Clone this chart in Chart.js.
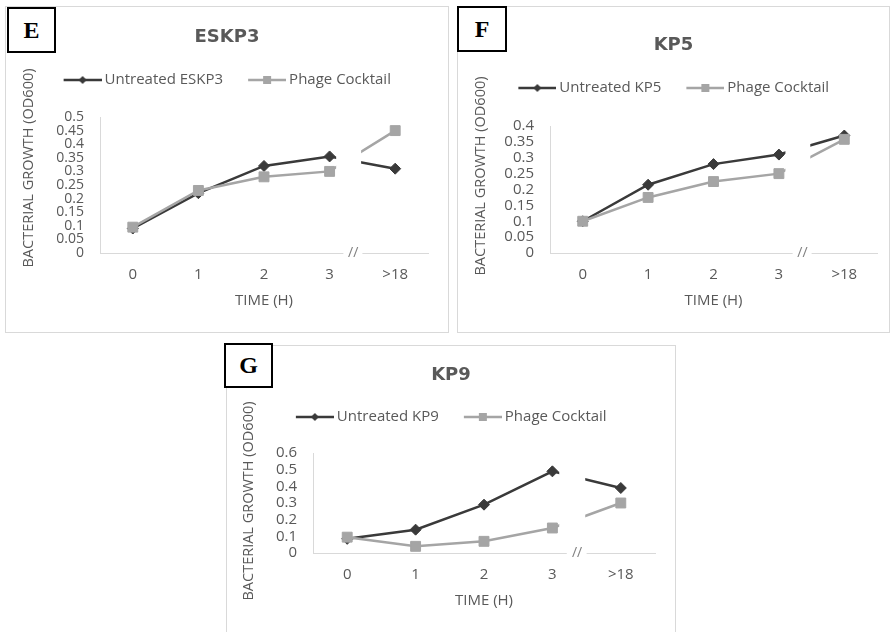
<!DOCTYPE html>
<html>
<head>
<meta charset="utf-8">
<script src="https://cdn.jsdelivr.net/npm/chart.js"></script>
<style>
  html, body { margin: 0; padding: 0; background: #fff; }
  body { width: 891px; height: 632px; position: relative; overflow: hidden; }
  .panel { position: absolute; box-sizing: border-box; border: 1px solid #d9d9d9; background: #fff; }
  .panel canvas { position: absolute; left: 0; top: 0; }
  .tag { position: absolute; box-sizing: border-box; border: 2px solid #000; background: #fff;
         font: bold 24px "Liberation Serif", serif; color: #000;
         display: flex; align-items: center; justify-content: center; }
</style>
</head>
<body>
<div class="panel" style="left:5px;top:6px;width:444px;height:327px"><canvas id="chartE" width="442" height="325"></canvas></div>
<div class="panel" style="left:457px;top:6px;width:433px;height:327px"><canvas id="chartF" width="431" height="325"></canvas></div>
<div class="panel" style="left:226px;top:345px;width:450px;height:300px"><canvas id="chartG" width="448" height="298"></canvas></div>
<div class="tag" style="left:7px;top:7px;width:49px;height:46px">E</div>
<div class="tag" style="left:457px;top:6px;width:50px;height:46px">F</div>
<div class="tag" style="left:224px;top:343px;width:49px;height:45px">G</div>

<script>
// valeurs (DO600)
const timeLabels = ['0', '1', '2', '3', '>18'];

const untreatedESKP3 = [0.09, 0.22, 0.32, 0.355, 0.31];
const phageESKP3 = [0.095, 0.23, 0.28, 0.30, 0.45];

const untreatedKP5 = [0.1, 0.215, 0.28, 0.31, 0.37];
const phageKP5 = [0.1, 0.175, 0.225, 0.25, 0.358];

const untreatedKP9 = [0.085, 0.14, 0.29, 0.49, 0.39];
const phageKP9 = [0.095, 0.04, 0.07, 0.15, 0.3];

const yTicksE = ['0', '0.05', '0.1', '0.15', '0.2', '0.25', '0.3', '0.35', '0.4', '0.45', '0.5'];
const yTicksF = ['0', '0.05', '0.1', '0.15', '0.2', '0.25', '0.3', '0.35', '0.4'];
const yTicksG = ['0', '0.1', '0.2', '0.3', '0.4', '0.5', '0.6'];

const DARK = '#3a3a3a';
const LIGHT = '#a5a5a5';
const TEXT = '#595959';
const AXIS = '#d9d9d9';

// petite icône de légende façon Excel : trait + marqueur
function legendIcon(color, shape) {
    const c = document.createElement('canvas');
    c.width = 43;
    c.height = 14;
    const g = c.getContext('2d');
    g.strokeStyle = color;
    g.lineWidth = 2.5;
    g.beginPath();
    g.moveTo(5, 7);
    g.lineTo(43, 7);
    g.stroke();
    g.fillStyle = color;
    g.beginPath();
    if (shape === 'diamond') {
        g.moveTo(24, 3); g.lineTo(28, 7); g.lineTo(24, 11); g.lineTo(20, 7);
    } else {
        g.rect(20, 3, 8, 8);
    }
    g.closePath();
    g.fill();
    return c;
}
const legendIcons = [legendIcon(DARK, 'diamond'), legendIcon(LIGHT, 'square')];

// titre vertical de l'axe Y
const yTitlePlugin = {
    id: 'yTitle',
    afterDraw(chart, args, opts) {
        const ctx = chart.ctx;
        ctx.save();
        ctx.translate(opts.x, opts.y);
        ctx.rotate(-Math.PI / 2);
        ctx.font = '14.5px "Open Sans"';
        ctx.fillStyle = TEXT;
        ctx.textAlign = 'center';
        ctx.textBaseline = 'middle';
        ctx.fillText(opts.text, 0, 0);
        ctx.restore();
    }
};

// coupure d'axe entre 3 h et >18 h
const axisBreakPlugin = {
    id: 'axisBreak',
    afterDatasetsDraw(chart) {
        const {ctx, chartArea, scales} = chart;
        const x3 = scales.x.getPixelForTick(3);
        const step = scales.x.getPixelForTick(4) - x3;
        ctx.save();
        ctx.fillStyle = '#fff';
        ctx.fillRect(x3 + 0.1 * step, chartArea.top - 12, 0.38 * step, chartArea.bottom - chartArea.top + 9);
        ctx.fillRect(x3 + 0.21 * step, chartArea.bottom - 3, 0.29 * step, 6);
        ctx.fillStyle = '#808080';
        ctx.font = '14px "Open Sans"';
        ctx.textAlign = 'center';
        ctx.textBaseline = 'middle';
        ctx.fillText('//', x3 + 0.36 * step, chartArea.bottom);
        ctx.restore();
    }
};

function makePanel(cfg) {
    const canvas = document.getElementById(cfg.id);
    return new Chart(canvas.getContext('2d'), {
        type: 'line',
        data: {
            labels: timeLabels,
            datasets: [
                {
                    label: cfg.untreatedLabel,
                    data: cfg.untreated,
                    borderColor: DARK,
                    backgroundColor: DARK,
                    borderWidth: 2.5,
                    pointStyle: 'rectRot',
                    pointRadius: 5.5,
                    pointBorderWidth: 1,
                    order: 2
                },
                {
                    label: 'Phage Cocktail',
                    data: cfg.phage,
                    borderColor: LIGHT,
                    backgroundColor: LIGHT,
                    borderWidth: 2.5,
                    pointStyle: 'rect',
                    pointRadius: 7,
                    pointBorderWidth: 1,
                    order: 1
                }
            ]
        },
        options: {
            responsive: false,
            animation: false,
            devicePixelRatio: 1,
            layout: {
                // marges symétriques pour garder titre et légende centrés
                padding: { left: cfg.side, top: 0, right: cfg.side, bottom: cfg.padBottom }
            },
            plugins: {
                title: {
                    display: true,
                    text: cfg.title,
                    color: TEXT,
                    font: { family: 'DejaVu Sans', size: 18, weight: 'bold', lineHeight: 1.2 },
                    padding: { top: cfg.titleTop, bottom: cfg.titleBottom }
                },
                // sert d'espace entre la légende et le graphique
                subtitle: {
                    display: true,
                    text: '',
                    weight: 500,
                    font: { size: 10, lineHeight: 1 },
                    padding: { top: cfg.gap, bottom: 0 }
                },
                legend: {
                    display: true,
                    position: 'top',
                    labels: {
                        usePointStyle: true,
                        pointStyleWidth: 34,
                        padding: 24.5,
                        color: TEXT,
                        font: { family: 'Open Sans', size: 15 },
                        generateLabels(chart) {
                            const items = Chart.defaults.plugins.legend.labels.generateLabels(chart);
                            items.sort((a, b) => a.datasetIndex - b.datasetIndex);
                            items.forEach(it => { it.pointStyle = legendIcons[it.datasetIndex]; });
                            return items;
                        }
                    }
                },
                tooltip: { enabled: false },
                yTitle: { text: 'BACTERIAL GROWTH (OD600)', x: cfg.yTitleX, y: cfg.yTitleY }
            },
            scales: {
                x: {
                    type: 'category',
                    offset: true,
                    grid: { display: false, drawTicks: false },
                    border: { display: true, color: AXIS, width: 1 },
                    ticks: {
                        color: TEXT,
                        padding: 13,
                        font: { family: 'Open Sans', size: 15 }
                    },
                    title: {
                        display: true,
                        text: 'TIME (H)',
                        color: TEXT,
                        font: { family: 'Open Sans', size: 15 },
                        padding: { top: -5, bottom: 0 }
                    }
                },
                y: {
                    min: 0,
                    max: parseFloat(cfg.yTicks[cfg.yTicks.length - 1]),
                    grid: { display: false, drawTicks: false },
                    border: { display: true, color: AXIS, width: 1 },
                    ticks: {
                        stepSize: parseFloat(cfg.yTicks[1]),
                        autoSkip: false,
                        padding: 16,
                        color: TEXT,
                        font: { family: 'Open Sans', size: cfg.yFont },
                        callback: (value, index) => cfg.yTicks[index]
                    },
                    afterFit(scale) {
                        scale.width = cfg.areaLeft - cfg.side;
                    }
                }
            }
        },
        plugins: [yTitlePlugin, axisBreakPlugin]
    });
}

makePanel({
    id: 'chartE', title: 'ESKP3', untreatedLabel: 'Untreated ESKP3',
    untreated: untreatedESKP3, phage: phageESKP3, yTicks: yTicksE, yFont: 14,
    areaLeft: 94, side: 20, padBottom: 22,
    titleTop: 19.7, titleBottom: -0.3, gap: 9.5,
    yTitleX: 22.5, yTitleY: 161
});

makePanel({
    id: 'chartF', title: 'KP5', untreatedLabel: 'Untreated KP5',
    untreated: untreatedKP5, phage: phageKP5, yTicks: yTicksF, yFont: 15,
    areaLeft: 92, side: 12, padBottom: 22,
    titleTop: 27.2, titleBottom: 0.2, gap: 10.5,
    yTitleX: 23, yTitleY: 169
});

makePanel({
    id: 'chartG', title: 'KP9', untreatedLabel: 'Untreated KP9',
    untreated: untreatedKP9, phage: phageKP9, yTicks: yTicksG, yFont: 15,
    areaLeft: 86, side: 20, padBottom: 34,
    titleTop: 18.2, titleBottom: -0.8, gap: 8.5,
    yTitleX: 21.5, yTitleY: 155
});
</script>
</body>
</html>
